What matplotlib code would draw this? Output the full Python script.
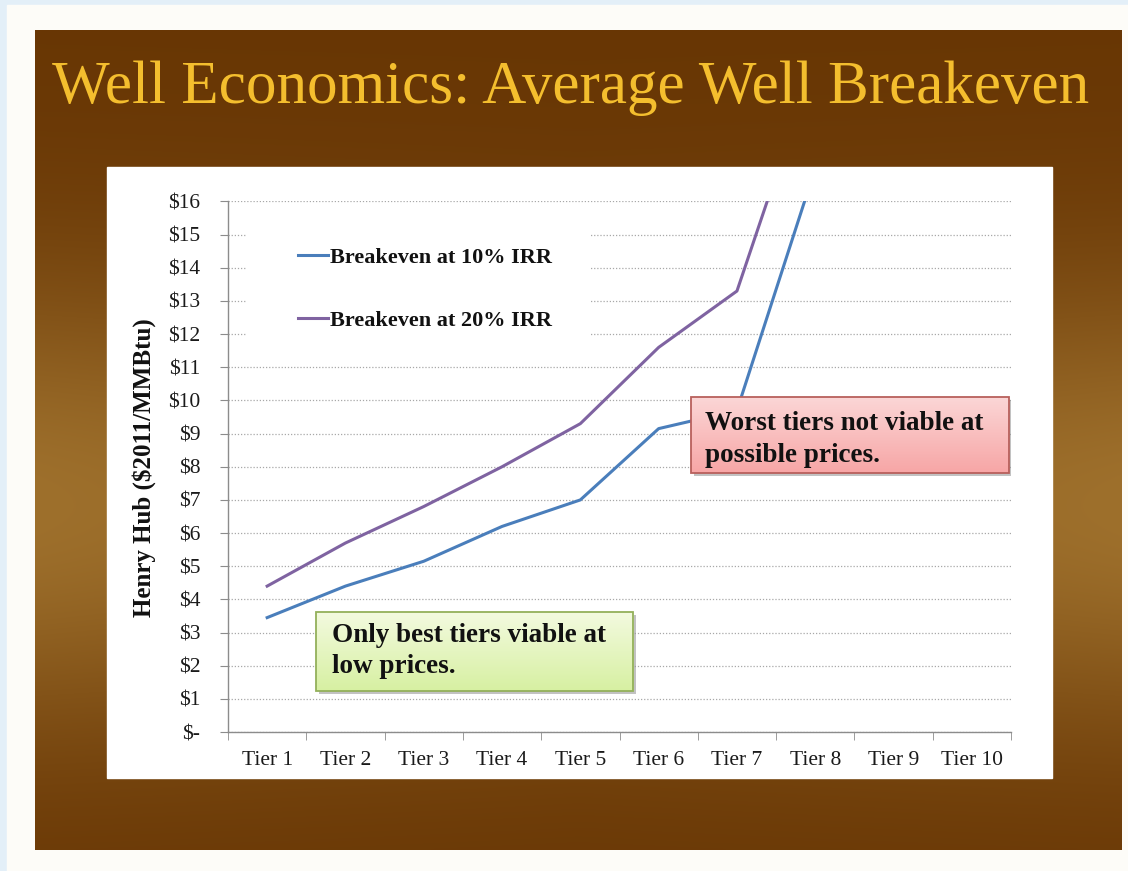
import numpy as np
import matplotlib
matplotlib.use("Agg")
import matplotlib.pyplot as plt
from matplotlib.patches import Rectangle

# ---- data -------------------------------------------------------------
tiers = ["Tier 1", "Tier 2", "Tier 3", "Tier 4", "Tier 5",
         "Tier 6", "Tier 7", "Tier 8", "Tier 9", "Tier 10"]
breakeven_10 = [3.45, 4.40, 5.15, 6.20, 7.00, 9.15, 9.70, 17.0, np.nan, np.nan]
breakeven_20 = [4.40, 5.70, 6.80, 8.00, 9.30, 11.60, 13.30, 20.3, np.nan, np.nan]
series_labels = ["Breakeven at 10% IRR", "Breakeven at 20% IRR"]
price_ticks = list(range(0, 17))
price_labels = ["$-"] + ["$%d" % v for v in range(1, 17)]

title_text = "Well Economics: Average Well Breakeven"
ylabel_text = "Henry Hub ($2011/MMBtu)"
note_low = "Only best tiers viable at\nlow prices."
note_high = "Worst tiers not viable at\npossible prices."

# ---- styling ----------------------------------------------------------
SERIF = "Liberation Serif"
BLUE = "#4a7ebb"
PURPLE = "#7f63a1"
GOLD = "#f4be2e"
W, H = 1128, 871

fig = plt.figure(figsize=(W / 100, H / 100), dpi=100)
fig.patch.set_facecolor("#e3eff8")

# slide backdrop drawn in pixel space
bg = fig.add_axes([0, 0, 1, 1])
bg.set_xlim(0, W)
bg.set_ylim(H, 0)
bg.axis("off")
bg.add_patch(Rectangle((7, 5), W - 7, H - 5, color="#fdfcf8", zorder=0))

# brown slide with a warm glow towards the middle of the sides
sx0, sx1, sy0, sy1 = 35, 1122, 31, 850
yy, xx = np.mgrid[0:1:300j, 0:1:400j]
dark = np.array([0x68, 0x36, 0x04]) / 255
light = np.array([0x9e, 0x70, 0x2c]) / 255
glow = np.exp(-((yy - 0.58) / 0.28) ** 2) * (0.75 + 0.25 * np.abs(xx - 0.5) * 2)
grad = dark[None, None, :] * (1 - glow[..., None]) + light[None, None, :] * glow[..., None]
bg.imshow(grad, extent=(sx0, sx1, sy1, sy0), aspect="auto", zorder=1,
          interpolation="bilinear")
bg.add_patch(Rectangle((107, 167), 1052 - 107, 778 - 167, color="white", zorder=2))
bg.text(52, 103, title_text, fontfamily=SERIF, fontsize=44, color=GOLD,
        ha="left", va="baseline", zorder=3)
bg.text(144, 468, ylabel_text, fontfamily=SERIF, fontsize=18, fontweight="bold",
        color="#111111", rotation=90, ha="center", va="center", zorder=3)

# ---- chart ------------------------------------------------------------
ax = fig.add_axes([228 / W, 1 - 732 / H, 783 / W, 530.5 / H])
ax.set_facecolor("none")
x = np.arange(1, len(tiers) + 1)

ax.plot(x, breakeven_10, color=BLUE, lw=2.2, zorder=3, label=series_labels[0])
ax.plot(x, breakeven_20, color=PURPLE, lw=2.2, zorder=3, label=series_labels[1])

ax.set_xlim(0.5, len(tiers) + 0.5)
ax.set_ylim(0, 16)

ax.set_yticks(price_ticks)
ax.set_yticklabels(price_labels)
ax.set_xticks(x)
ax.set_xticklabels(tiers)
ax.set_xticks(np.arange(0.5, len(tiers) + 1, 1.0), minor=True)
ax.tick_params(axis="x", which="major", length=0, pad=14)
ax.tick_params(axis="x", which="minor", length=6, color="#8c8c8c", direction="out")
ax.tick_params(axis="y", length=6, color="#8c8c8c", direction="out", pad=14)
for lab in ax.get_xticklabels() + ax.get_yticklabels():
    lab.set_fontfamily(SERIF)
    lab.set_fontsize(15.5)
    lab.set_color("#1a1a1a")

for side in ("top", "right"):
    ax.spines[side].set_visible(False)
for side in ("left", "bottom"):
    ax.spines[side].set_color("#8c8c8c")
    ax.spines[side].set_linewidth(1.0)

ax.set_axisbelow(True)
ax.yaxis.grid(True, color="#a8a8a8", linestyle=(0, (1, 1.5)), linewidth=0.9)

# legend with a plain white backing
ax.add_patch(Rectangle((0.024, 0.72), 0.438, 0.264, transform=ax.transAxes,
                       facecolor="white", edgecolor="none", zorder=1))
leg = ax.legend(loc="upper left", bbox_to_anchor=(0.089, 0.913), frameon=False,
                prop={"family": SERIF, "weight": "bold", "size": 16},
                handlelength=1.35, handletextpad=0.1, labelspacing=1.9,
                borderpad=0, borderaxespad=0)
for t in leg.get_texts():
    t.set_color("#111111")


def note_box(x0, x1, y0, y1, top_rgb, bot_rgb, edge, text, tx, ty):
    dx, dy = 3 / 78.3, 3 / 33.16
    ax.add_patch(Rectangle((x0 + dx, y0 - dy), x1 - x0, y1 - y0,
                           facecolor="#9a9a9a", edgecolor="none", alpha=0.6, zorder=4))
    g = np.linspace(0, 1, 64)[:, None, None]
    top = np.array(top_rgb)[None, None, :] / 255
    bot = np.array(bot_rgb)[None, None, :] / 255
    img = top * (1 - g) + bot * g
    img = np.repeat(img, 2, axis=1)
    ax.imshow(img, extent=(x0, x1, y0, y1), aspect="auto", origin="upper",
              zorder=5, interpolation="bilinear")
    ax.add_patch(Rectangle((x0, y0), x1 - x0, y1 - y0, facecolor="none",
                           edgecolor=edge, lw=1.3, zorder=6))
    ax.text(tx, ty, text, fontfamily=SERIF, fontweight="bold", fontsize=19.5,
            color="#111111", ha="left", va="center", linespacing=1.35, zorder=7)


note_box(1.62, 5.67, 1.24, 3.62, (0xf3, 0xfa, 0xdf), (0xd7, 0xf0, 0xa2),
         "#93b05a", note_low, 1.83, 2.44)
note_box(6.41, 10.47, 7.81, 10.1, (0xfb, 0xd6, 0xd6), (0xf7, 0xa6, 0xa6),
         "#b8605c", note_high, 6.59, 8.83)

ax.set_xlim(0.5, len(tiers) + 0.5)
ax.set_ylim(0, 16)

fig.savefig("out.png", dpi=100, facecolor=fig.get_facecolor())
